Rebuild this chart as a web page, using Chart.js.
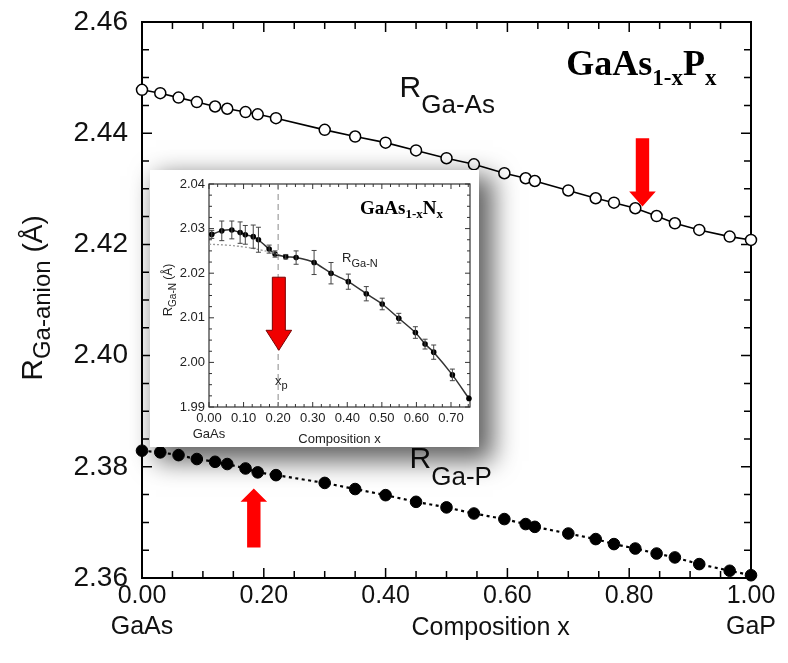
<!DOCTYPE html>
<html><head><meta charset="utf-8">
<script src="https://cdn.jsdelivr.net/npm/chart.js@4.4.1/dist/chart.umd.min.js"></script>
<style>
html,body{margin:0;padding:0;background:#fff;}
#wrap{position:relative;width:788px;height:663px;overflow:hidden;background:#fff;}
#main{position:absolute;left:0;top:0;}
#insetBox{position:absolute;left:150px;top:170px;width:329px;height:277px;background:#fff;box-shadow:10px 10px 24px 4px rgba(0,0,0,0.62);}
#inset{position:absolute;left:0;top:0;}
</style></head><body>
<div id="wrap">
<canvas id="main" width="788" height="663"></canvas>
<div id="insetBox"><canvas id="inset" width="329" height="277"></canvas></div>
</div>
<script>
// ---------- main chart data (GaAs1-xPx) ----------
const compositionX = [0.00,0.03,0.06,0.09,0.12,0.14,0.17,0.19,0.22,0.30,0.35,0.40,0.45,0.50,0.545,0.595,0.63,0.645,0.70,0.745,0.775,0.81,0.845,0.875,0.915,0.965,1.00];
const rGaAs = [2.4478,2.4472,2.4464,2.4456,2.4448,2.4444,2.4438,2.4434,2.4427,2.4406,2.4394,2.4383,2.4369,2.4355,2.4344,2.4328,2.4319,2.4314,2.4297,2.4283,2.4275,2.4265,2.4251,2.4238,2.4226,2.4214,2.4208];
const rGaP  = [2.3829,2.3826,2.3821,2.3814,2.3809,2.3805,2.3797,2.3790,2.3785,2.3771,2.3760,2.3749,2.3737,2.3727,2.3716,2.3706,2.3697,2.3692,2.3680,2.3670,2.3661,2.3653,2.3644,2.3637,2.3625,2.3613,2.3605];
const mainXTicks = [0.0,0.2,0.4,0.6,0.8,1.0];
const mainYTicks = [2.36,2.38,2.40,2.42,2.44,2.46];
const mainXEndLabels = {0:'GaAs', 1:'GaP'};

// ---------- inset data (GaAs1-xNx) ----------
const nitrogenX = [0.008,0.037,0.066,0.090,0.105,0.128,0.143,0.174,0.191,0.222,0.252,0.304,0.353,0.403,0.455,0.501,0.549,0.597,0.625,0.650,0.704,0.752];
const rGaN      = [2.0287,2.0295,2.0297,2.0291,2.0286,2.0282,2.0275,2.0254,2.0243,2.0237,2.0235,2.0224,2.0200,2.0181,2.0154,2.0131,2.0099,2.0067,2.0041,2.0023,1.9972,1.9919];
const rGaNErr   = [0.0009,0.0022,0.0020,0.0024,0.0021,0.0026,0.0028,0.0009,0.0007,0.0005,0.0015,0.0027,0.0024,0.0017,0.0016,0.0013,0.0011,0.0013,0.0011,0.0016,0.0013,0];
const fitX = [0.00,0.05,0.10,0.15,0.20];
const fitR = [2.0265,2.0263,2.0259,2.0252,2.0243];
const insetXTicks = [0.0,0.1,0.2,0.3,0.4,0.5,0.6,0.7];
const insetYTicks = [1.99,2.00,2.01,2.02,2.03,2.04];
const insetXEndLabels = {0:'GaAs'};
const xpValue = 0.2;

const SANS = "'Liberation Sans', Arial, Helvetica, sans-serif";
const SERIF = "'Liberation Serif', 'Times New Roman', serif";

function drawParts(ctx, x, y, parts, color) {
  ctx.fillStyle = color || '#000';
  ctx.textBaseline = 'alphabetic';
  ctx.textAlign = 'left';
  let cx = x;
  for (const p of parts) {
    ctx.font = p.font;
    ctx.fillText(p.text, cx, y + (p.dy || 0));
    cx += ctx.measureText(p.text).width;
  }
  return cx - x;
}
function partsWidth(ctx, parts) {
  let w = 0;
  for (const p of parts) { ctx.font = p.font; w += ctx.measureText(p.text).width; }
  return w;
}
function drawArrow(ctx, xs, ys, a) {
  const cx = xs.getPixelForValue(a.x);
  const yTail = ys.getPixelForValue(a.tail);
  const yBase = ys.getPixelForValue(a.headBase);
  const yTip = ys.getPixelForValue(a.tip);
  ctx.beginPath();
  ctx.moveTo(cx - a.shaftHalf, yTail);
  ctx.lineTo(cx + a.shaftHalf, yTail);
  ctx.lineTo(cx + a.shaftHalf, yBase);
  ctx.lineTo(cx + a.headHalf, yBase);
  ctx.lineTo(cx, yTip);
  ctx.lineTo(cx - a.headHalf, yBase);
  ctx.lineTo(cx - a.shaftHalf, yBase);
  ctx.closePath();
  ctx.fillStyle = a.color;
  ctx.fill();
  if (a.stroke) { ctx.strokeStyle = a.stroke; ctx.lineWidth = 1; ctx.stroke(); }
}

// frame + inward ticks plugin
const framePlugin = {
  id: 'frameTicks',
  beforeDatasetsDraw(chart, args, o) {
    const {ctx, chartArea: {left, right, top, bottom}, scales: {x, y}} = chart;
    ctx.save();
    ctx.strokeStyle = o.color;
    ctx.lineWidth = o.tickWidth;
    const nx = Math.round((x.max - x.min) / o.xMinor);
    for (let i = 0; i <= nx; i++) {
      const v = x.min + i * o.xMinor;
      if (v > x.max + 1e-9) break;
      const r = v / o.xMajor;
      const L = Math.abs(r - Math.round(r)) < 1e-6 ? o.major : o.minor;
      const px = x.getPixelForValue(v);
      ctx.beginPath();
      ctx.moveTo(px, bottom); ctx.lineTo(px, bottom - L);
      ctx.moveTo(px, top); ctx.lineTo(px, top + L);
      ctx.stroke();
    }
    const ny = Math.round((y.max - y.min) / o.yMinor);
    for (let i = 0; i <= ny; i++) {
      const v = y.min + i * o.yMinor;
      const r = (v - y.min) / o.yMajor;
      const L = Math.abs(r - Math.round(r)) < 1e-6 ? o.major : o.minor;
      const py = y.getPixelForValue(v);
      ctx.beginPath();
      ctx.moveTo(left, py); ctx.lineTo(left + L, py);
      ctx.moveTo(right, py); ctx.lineTo(right - L, py);
      ctx.stroke();
    }
    ctx.lineWidth = o.frameWidth;
    ctx.strokeRect(left, top, right - left, bottom - top);
    ctx.restore();
  }
};

// annotations plugin (texts with subscripts, arrows, y title, extra lines)
const annotPlugin = {
  id: 'annot',
  beforeDatasetsDraw(chart, args, o) {
    const {ctx, chartArea: {top, bottom}, scales: {x, y}} = chart;
    if (o.vline) {
      ctx.save();
      ctx.strokeStyle = o.vline.color; ctx.lineWidth = o.vline.width;
      ctx.setLineDash(o.vline.dash);
      const px = x.getPixelForValue(o.vline.value);
      ctx.beginPath(); ctx.moveTo(px, top); ctx.lineTo(px, bottom); ctx.stroke();
      ctx.restore();
    }
  },
  afterDatasetsDraw(chart, args, o) {
    const {ctx, scales: {x, y}} = chart;
    ctx.save();
    if (o.errorBars) {
      const e = o.errorBars;
      ctx.strokeStyle = e.color; ctx.lineWidth = e.width;
      e.xs.forEach((xv, i) => {
        const err = e.err[i];
        if (!err) return;
        const px = x.getPixelForValue(xv);
        const y1 = y.getPixelForValue(e.ys[i] - err);
        const y2 = y.getPixelForValue(e.ys[i] + err);
        ctx.beginPath();
        ctx.moveTo(px, y1); ctx.lineTo(px, y2);
        ctx.moveTo(px - e.cap, y1); ctx.lineTo(px + e.cap, y1);
        ctx.moveTo(px - e.cap, y2); ctx.lineTo(px + e.cap, y2);
        ctx.stroke();
      });
    }
    (o.arrows || []).forEach(a => drawArrow(ctx, x, y, a));
    (o.texts || []).forEach(t => {
      drawParts(ctx, x.getPixelForValue(t.x), y.getPixelForValue(t.y), t.parts, t.color);
    });
    if (o.xTitle) {
      const t = o.xTitle;
      ctx.font = t.font; ctx.fillStyle = t.color; ctx.textAlign = 'center'; ctx.textBaseline = 'middle';
      ctx.fillText(t.text, x.getPixelForValue(t.x), t.y);
    }
    if (o.yTitle) {
      const t = o.yTitle;
      ctx.save();
      ctx.translate(t.cx, t.cy);
      ctx.rotate(-Math.PI / 2);
      const w = partsWidth(ctx, t.parts);
      drawParts(ctx, -w / 2, 0, t.parts, t.color);
      ctx.restore();
    }
    ctx.restore();
  }
};

function noPad(s) { s.paddingTop = 0; s.paddingBottom = 0; s.paddingLeft = 0; s.paddingRight = 0; }

// ---------------- MAIN CHART ----------------
new Chart(document.getElementById('main'), {
  type: 'line',
  data: {
    datasets: [
      { label: 'R Ga-As', data: compositionX.map((v, i) => ({x: v, y: rGaAs[i]})),
        borderColor: '#000', borderWidth: 1.6, tension: 0, clip: false,
        pointRadius: 5.5, pointBackgroundColor: '#fff', pointBorderColor: '#000', pointBorderWidth: 1.5 },
      { label: 'R Ga-P', data: compositionX.map((v, i) => ({x: v, y: rGaP[i]})),
        borderColor: '#000', borderWidth: 2.2, borderDash: [3, 3.5], tension: 0, clip: false,
        pointRadius: 5.8, pointBackgroundColor: '#000', pointBorderColor: '#000', pointBorderWidth: 1 }
    ]
  },
  options: {
    responsive: false, animation: false, devicePixelRatio: 1,
    layout: {padding: {left: 0, right: 37, top: 22, bottom: 0}},
    plugins: {
      legend: {display: false}, tooltip: {enabled: false},
      frameTicks: {color: '#000', tickWidth: 1.5, frameWidth: 2, major: 10, minor: 7,
                   xMinor: 0.05, xMajor: 0.2, yMinor: 0.005, yMajor: 0.02},
      annot: {
        arrows: [
          {x: 0.8218, tail: 2.4391, headBase: 2.4295, tip: 2.4268, shaftHalf: 6.7, headHalf: 13.3, color: '#ff0000'},
          {x: 0.1836, tail: 2.3655, headBase: 2.3737, tip: 2.3761, shaftHalf: 6.7, headHalf: 13.3, color: '#ff0000'}
        ],
        texts: [
          {x: 0.423, y: 2.4465, color: '#111', parts: [
            {text: 'R', font: `30px ${SANS}`},
            {text: 'Ga-As', font: `26px ${SANS}`, dy: 16}]},
          {x: 0.4393, y: 2.3798, color: '#111', parts: [
            {text: 'R', font: `30px ${SANS}`},
            {text: 'Ga-P', font: `26px ${SANS}`, dy: 17}]},
          {x: 0.6967, y: 2.4505, color: '#000', parts: [
            {text: 'GaAs', font: `bold 36px ${SERIF}`},
            {text: '1-x', font: `bold 23px ${SERIF}`, dy: 10},
            {text: 'P', font: `bold 36px ${SERIF}`},
            {text: 'x', font: `bold 23px ${SERIF}`, dy: 10}]}
        ],
        xTitle: {text: 'Composition x', x: 0.5725, y: 628, font: `25px ${SANS}`, color: '#111'},
        yTitle: {cx: 42, cy: 298, color: '#111', parts: [
          {text: 'R', font: `30px ${SANS}`},
          {text: 'Ga-anion', font: `24px ${SANS}`, dy: 8},
          {text: ' (Å)', font: `28px ${SANS}`}]}
      }
    },
    scales: {
      x: {
        type: 'linear', min: 0, max: 1,
        grid: {display: false, drawTicks: false}, border: {display: false},
        afterBuildTicks: s => { s.ticks = mainXTicks.map(v => ({value: v})); },
        afterFit: s => { s.height = 85; noPad(s); },
        ticks: {
          autoSkip: false, maxRotation: 0, minRotation: 0, padding: 3, color: '#111',
          font: {family: SANS, size: 25, lineHeight: 1.24},
          callback: v => {
            const lab = Number(v).toFixed(2);
            const key = Math.round(v * 100) / 100;
            return mainXEndLabels[key] ? [lab, mainXEndLabels[key]] : lab;
          }
        }
      },
      y: {
        type: 'linear', min: 2.36, max: 2.46,
        grid: {display: false, drawTicks: false}, border: {display: false},
        afterBuildTicks: s => { s.ticks = mainYTicks.map(v => ({value: v})); },
        afterFit: s => { s.width = 142; noPad(s); },
        ticks: {padding: 14, color: '#111', font: {family: SANS, size: 28}, callback: v => Number(v).toFixed(2)}
      }
    }
  },
  plugins: [framePlugin, annotPlugin]
});

// ---------------- INSET CHART ----------------
new Chart(document.getElementById('inset'), {
  type: 'line',
  data: {
    datasets: [
      { label: 'fit', data: fitX.map((v, i) => ({x: v, y: fitR[i]})),
        borderColor: '#9a9a9a', borderWidth: 1.3, borderDash: [2, 2], tension: 0.4,
        pointRadius: 0, clip: false },
      { label: 'R Ga-N', data: nitrogenX.map((v, i) => ({x: v, y: rGaN[i]})),
        borderColor: '#333', borderWidth: 1.5, tension: 0.2, clip: false,
        pointRadius: 2.8, pointBackgroundColor: '#000', pointBorderColor: '#000', pointBorderWidth: 0 }
    ]
  },
  options: {
    responsive: false, animation: false, devicePixelRatio: 1,
    layout: {padding: {left: 0, right: 9, top: 14, bottom: 0}},
    plugins: {
      legend: {display: false}, tooltip: {enabled: false},
      frameTicks: {color: '#333', tickWidth: 1, frameWidth: 1.2, major: 5, minor: 3,
                   xMinor: 0.025, xMajor: 0.1, yMinor: 0.0025, yMajor: 0.01},
      annot: {
        vline: {value: xpValue, color: '#8a8a8a', width: 1, dash: [6, 4]},
        errorBars: {xs: nitrogenX, ys: rGaN, err: rGaNErr, color: '#444', width: 1, cap: 2.5},
        arrows: [
          {x: 0.202, tail: 2.0191, headBase: 2.0072, tip: 2.0027, shaftHalf: 6.5, headHalf: 12.8, color: '#f00000', stroke: '#7a0000'}
        ],
        texts: [
          {x: 0.437, y: 2.0333, color: '#000', parts: [
            {text: 'GaAs', font: `bold 19px ${SERIF}`},
            {text: '1-x', font: `bold 13px ${SERIF}`, dy: 4},
            {text: 'N', font: `bold 19px ${SERIF}`},
            {text: 'x', font: `bold 13px ${SERIF}`, dy: 4}]},
          {x: 0.385, y: 2.0226, color: '#222', parts: [
            {text: 'R', font: `13px ${SANS}`},
            {text: 'Ga-N', font: `11px ${SANS}`, dy: 5}]},
          {x: 0.191, y: 1.9950, color: '#222', parts: [
            {text: 'x', font: `13px ${SANS}`},
            {text: 'p', font: `11px ${SANS}`, dy: 4}]}
        ],
        yTitle: {cx: 22, cy: 120, color: '#222', parts: [
          {text: 'R', font: `13px ${SANS}`},
          {text: 'Ga-N', font: `10px ${SANS}`, dy: 4},
          {text: ' (Å)', font: `12px ${SANS}`}]}
      }
    },
    scales: {
      x: {
        type: 'linear', min: 0, max: 0.755,
        grid: {display: false, drawTicks: false}, border: {display: false},
        afterBuildTicks: s => { s.ticks = insetXTicks.map(v => ({value: v})); },
        afterFit: s => { s.height = 40; noPad(s); },
        title: {display: true, text: 'Composition x', color: '#222', font: {family: SANS, size: 13}, padding: {top: 0, bottom: 0}},
        ticks: {
          autoSkip: false, maxRotation: 0, minRotation: 0, padding: 3, color: '#222',
          font: {family: SANS, size: 13, lineHeight: 1.23},
          callback: v => {
            const lab = Number(v).toFixed(2);
            const key = Math.round(v * 100) / 100;
            return insetXEndLabels[key] ? [lab, insetXEndLabels[key]] : lab;
          }
        }
      },
      y: {
        type: 'linear', min: 1.99, max: 2.04,
        grid: {display: false, drawTicks: false}, border: {display: false},
        afterBuildTicks: s => { s.ticks = insetYTicks.map(v => ({value: v})); },
        afterFit: s => { s.width = 59; noPad(s); },
        ticks: {padding: 4, color: '#222', font: {family: SANS, size: 13}, callback: v => Number(v).toFixed(2)}
      }
    }
  },
  plugins: [framePlugin, annotPlugin]
});
</script>
</body></html>
